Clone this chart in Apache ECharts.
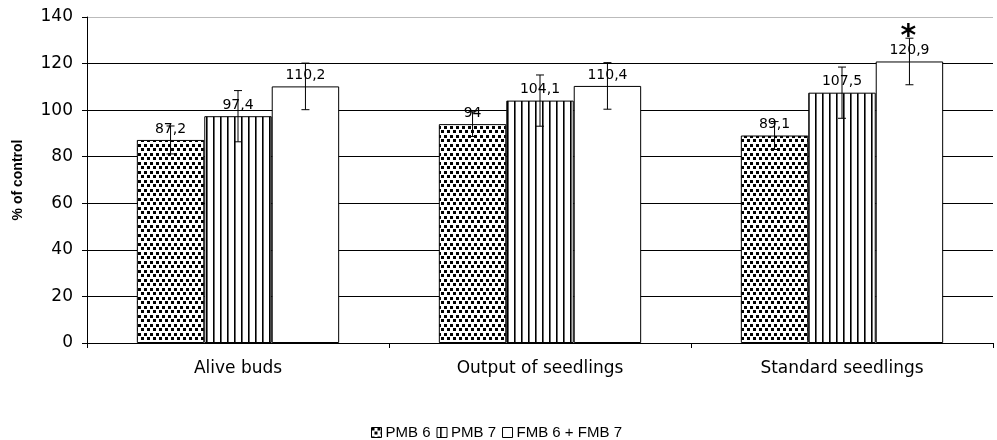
<!DOCTYPE html>
<html>
<head>
<meta charset="utf-8">
<script src="https://cdn.jsdelivr.net/npm/echarts@6/dist/echarts.min.js"></script>
<style>html,body{margin:0;padding:0;background:#fff}#c{width:997px;height:440px}</style>
</head>
<body>
<div id="c"></div>
<script>
var categories = ['Alive buds', 'Output of seedlings', 'Standard seedlings'];
var seriesNames = ['PMB 6', 'PMB 7', 'FMB 6 + FMB 7'];
var pmb6 = [87.2, 94, 89.1];
var pmb7 = [97.4, 104.1, 107.5];
var fmb67 = [110.2, 110.4, 120.9];
var err6 = [6, 5.3, 6];
var err7 = [11, 11, 11];
var errF = [10, 10, 10];
var marksF = ['', '', '*'];
var yTicks = [0, 20, 40, 60, 80, 100, 120, 140];

function dotPattern() {
  var c = document.createElement('canvas');
  c.width = 6; c.height = 9;
  var g = c.getContext('2d');
  g.fillStyle = '#fff'; g.fillRect(0, 0, 6, 9);
  g.fillStyle = '#000';
  g.fillRect(0, 0, 3, 3);
  g.fillRect(3, 4, 3, 3);
  return c;
}
function stripePattern() {
  var c = document.createElement('canvas');
  c.width = 7; c.height = 7;
  var g = c.getContext('2d');
  g.fillStyle = '#fff'; g.fillRect(0, 0, 7, 7);
  g.fillStyle = '#000'; g.fillRect(3, 0, 1, 7);
  g.fillStyle = '#666'; g.fillRect(4, 0, 1, 7);
  return c;
}
var fills = [
  { image: dotPattern(), repeat: 'repeat' },
  { image: stripePattern(), repeat: 'repeat' },
  '#fff'
];
var values = [pmb6, pmb7, fmb67];
var errs = [err6, err7, errF];
var CAT_GAP = 0.33;
var FONT = 'DejaVu Sans, Verdana, sans-serif';
var FONT2 = 'Liberation Sans, Arial, sans-serif';

function fmt(v) { return String(v).replace('.', ','); }

var series = [];
values.forEach(function (vals, si) {
  series.push({
    name: seriesNames[si],
    type: 'bar',
    data: vals,
    barGap: 0,
    barCategoryGap: (CAT_GAP * 100) + '%',
    itemStyle: { color: fills[si], borderColor: '#000', borderWidth: 1 },
    label: {
      show: true, position: 'top', distance: 4,
      color: '#000', fontSize: 14, fontFamily: FONT,
      formatter: function (p) { return fmt(p.value); }
    },
    z: 2
  });
});
values.forEach(function (vals, si) {
  var data = vals.map(function (v, ci) { return [ci, v - errs[si][ci], v + errs[si][ci], si]; });
  series.push({
    type: 'custom',
    name: 'err' + si,
    z: 5,
    silent: true,
    data: data,
    encode: { x: 0, y: [1, 2] },
    renderItem: function (params, api) {
      var ci = api.value(0), lo = api.value(1), hi = api.value(2), idx = api.value(3);
      var catW = api.size([1, 0])[0];
      var barW = catW * (1 - CAT_GAP) / 3;
      var off = (idx - 1) * barW;
      var pLo = api.coord([ci, lo]);
      var pHi = api.coord([ci, hi]);
      var x = pLo[0] + off;
      var cap = 4;
      var st = { stroke: '#000', lineWidth: 1 };
      var children = [
        { type: 'line', shape: { x1: x, y1: pLo[1], x2: x, y2: pHi[1] }, style: st },
        { type: 'line', shape: { x1: x - cap, y1: pLo[1], x2: x + cap, y2: pLo[1] }, style: st },
        { type: 'line', shape: { x1: x - cap, y1: pHi[1], x2: x + cap, y2: pHi[1] }, style: st }
      ];
      if (idx === 2 && marksF[ci]) {
        children.push({
          type: 'text',
          style: { text: marksF[ci], x: x - 1, y: pHi[1] - 1, align: 'center', verticalAlign: 'middle',
                   fontSize: 30, fontWeight: 'bold', fill: '#000', fontFamily: FONT }
        });
      }
      return { type: 'group', children: children };
    }
  });
});

var chart = echarts.init(document.getElementById('c'), null, { renderer: 'canvas' });
chart.setOption({
  animation: false,
  backgroundColor: '#fff',
  textStyle: { fontFamily: FONT },
  grid: { left: 87, right: 4, top: 17, bottom: 97, containLabel: false },
  legend: {
    data: seriesNames,
    left: 366, top: 420,
    icon: 'rect', itemWidth: 10, itemHeight: 10, itemGap: 6,
    textStyle: { color: '#000', fontSize: 15, fontFamily: FONT2, padding: [0, 0, 0, -1] },
    itemStyle: { borderColor: '#000', borderWidth: 1 }
  },
  xAxis: {
    type: 'category',
    data: categories,
    axisLine: { lineStyle: { color: '#000' } },
    axisTick: { show: true, length: 5, lineStyle: { color: '#000' } },
    axisLabel: { color: '#000', fontSize: 17, fontFamily: FONT, margin: 17 }
  },
  yAxis: {
    type: 'value',
    min: yTicks[0], max: yTicks[yTicks.length - 1], interval: yTicks[1] - yTicks[0],
    name: '% of control',
    nameLocation: 'middle',
    nameGap: 62,
    nameTextStyle: { color: '#000', fontSize: 14, fontWeight: 'bold', fontFamily: FONT2 },
    axisLine: { show: true, lineStyle: { color: '#000' } },
    axisTick: { show: true, length: 5, lineStyle: { color: '#000' } },
    axisLabel: { color: '#000', fontSize: 17, fontFamily: FONT, margin: 14 },
    splitLine: { show: true, lineStyle: { color: ['#000', '#000', '#000', '#000', '#000', '#000', '#000', '#bbb'], width: 1 } }
  },
  series: series
});
</script>
</body>
</html>
